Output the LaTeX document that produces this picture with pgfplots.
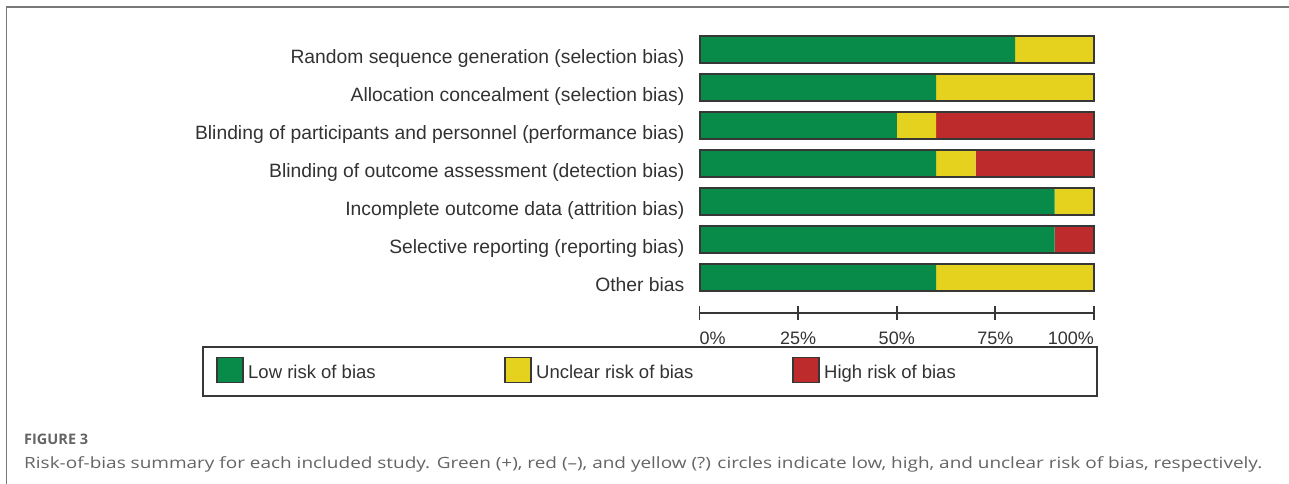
\documentclass[border=0pt]{standalone}
\usepackage{fontspec}
\setmainfont{Liberation Sans}
\newfontfamily\capfont{Open Sans}
\usepackage{graphicx}
\usepackage{pgfplots}
\pgfplotsset{compat=1.18}
\definecolor{rbgreen}{RGB}{8,138,72}
\definecolor{rbyellow}{RGB}{229,210,30}
\definecolor{rbred}{RGB}{189,43,44}
\definecolor{outline}{RGB}{55,55,55}
\definecolor{labelgray}{RGB}{50,50,50}
\definecolor{capgray}{RGB}{100,100,100}
\definecolor{framegray}{RGB}{120,120,120}
\begin{document}
\begin{tikzpicture}
\path[use as bounding box] (0,0) rectangle (1289pt,484pt);
\draw[framegray, line width=1.5pt] (6.5pt,0) -- (6.5pt,477pt) -- (1289pt,477pt);

\begin{axis}[
  at={(699.5pt,170.7pt)}, anchor=south west,
  scale only axis, width=394.5pt, height=283.3pt,
  xmin=0, xmax=100, ymin=-0.94, ymax=6.5,
  xbar stacked, bar width=27pt,
  axis x line*=bottom, axis y line*=left,
  y axis line style={draw=none}, ytick style={draw=none},
  x axis line style={line width=1.8pt, color=outline},
  xtick={0,25,50,75,100}, xtick align=center, major tick length=14pt,
  xtick style={line width=1.8pt, color=outline},
  xticklabels={\makebox[0pt][l]{0\%},25\%,50\%,75\%,\makebox[0pt][r]{100\%}},
  xticklabel style={anchor=base, yshift=-24.7pt, font=\fontsize{18}{20}\selectfont, text=labelgray},
  ytick={0,...,6},
  yticklabels={Other bias,
    Selective reporting (reporting bias),
    Incomplete outcome data (attrition bias),
    Blinding of outcome assessment (detection bias),
    Blinding of participants and personnel (performance bias),
    Allocation concealment (selection bias),
    Random sequence generation (selection bias)},
  yticklabel style={anchor=base east, inner sep=0pt, xshift=-15pt, yshift=-14pt,
    font=\fontsize{19.3}{22}\selectfont, text=labelgray},
  clip=false,
]
\addplot[fill=rbgreen, draw=none] coordinates {(60,0) (90,1) (90,2) (60,3) (50,4) (60,5) (80,6)};
\addplot[fill=rbyellow, draw=none] coordinates {(40,0) (0,1) (10,2) (10,3) (10,4) (40,5) (20,6)};
\addplot[fill=rbred, draw=none] coordinates {(0,0) (10,1) (0,2) (30,3) (40,4) (0,5) (0,6)};
\end{axis}

\begin{axis}[
  at={(699.5pt,170.7pt)}, anchor=south west,
  scale only axis, width=394.5pt, height=283.3pt,
  xmin=0, xmax=100, ymin=-0.94, ymax=6.5,
  xbar, bar width=27pt, hide axis, clip=false,
]
\addplot[draw=outline, line width=2pt, fill=none] coordinates {(100,0) (100,1) (100,2) (100,3) (100,4) (100,5) (100,6)};
\end{axis}

% legend
\draw[outline, line width=2pt] (203pt,88pt) rectangle (1097pt,137.3pt);
\filldraw[fill=rbgreen, draw=outline, line width=1.5pt] (217pt,101.3pt) rectangle (243pt,126.3pt);
\filldraw[fill=rbyellow, draw=outline, line width=1.5pt] (505pt,101.3pt) rectangle (531pt,126.3pt);
\filldraw[fill=rbred, draw=outline, line width=1.5pt] (793pt,101.3pt) rectangle (819pt,126.3pt);
\begin{scope}[every node/.style={anchor=base west, inner sep=0pt, text=labelgray, font=\fontsize{18.5}{20}\selectfont}]
\node at (248pt,105.7pt) {Low risk of bias};
\node at (536pt,105.7pt) {Unclear risk of bias};
\node at (824pt,105.7pt) {High risk of bias};
\end{scope}

% caption
\node[anchor=base west, inner sep=0pt, text=capgray] at (24pt,39pt)
  {\resizebox{64pt}{\height}{\capfont\bfseries\fontsize{14.5}{16}\selectfont FIGURE 3}};
\node[anchor=base west, inner sep=0pt, text=capgray] at (24pt,16pt)
  {\resizebox{1238pt}{\height}{\capfont\fontsize{15.5}{18}\selectfont Risk-of-bias summary for each included study. Green (+), red (–), and yellow (?) circles indicate low, high, and unclear risk of bias, respectively.}};
\end{tikzpicture}
\end{document}
